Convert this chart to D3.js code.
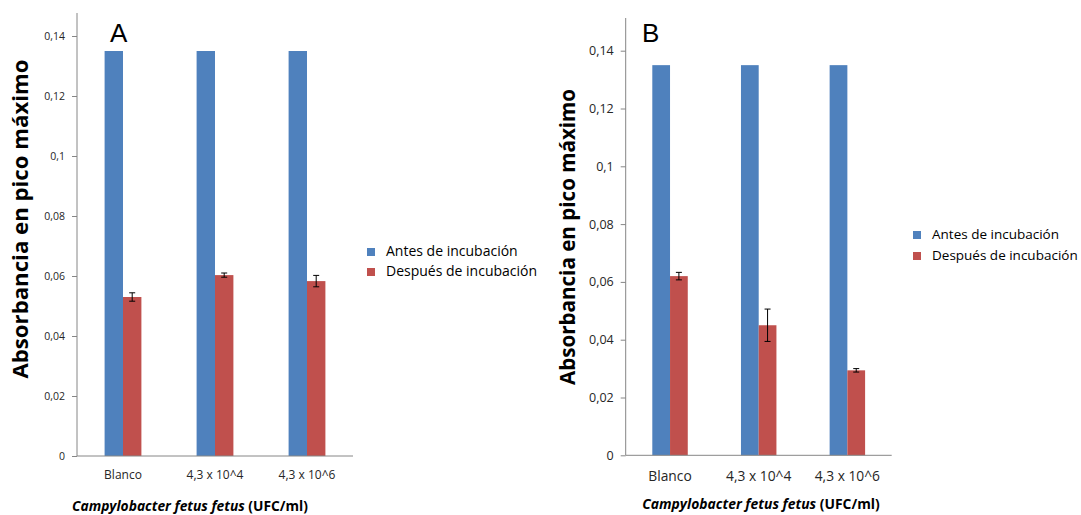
<!DOCTYPE html>
<meta charset="utf-8">
<style type="text/css">
    body { margin: 0; background: #fff; }
    svg { display: block; font-family: "Open Sans", "Noto Sans", sans-serif; }
</style>
<svg width="1081" height="515"></svg>
<script type="text/javascript" src="https://cdn.jsdelivr.net/npm/d3@7"></script>

<script type="text/javascript">

    // datos
    const categories = ["Blanco", "4,3 x 10^4", "4,3 x 10^6"];
    const seriesNames = ["Antes de incubación", "Después de incubación"];
    const yTicks = [0, 0.02, 0.04, 0.06, 0.08, 0.1, 0.12, 0.14];

    const antesA = [0.135, 0.135, 0.135];
    const despuesA = [0.053, 0.0603, 0.0583];
    const errA = [0.0014, 0.0007, 0.0019];

    const antesB = [0.135, 0.135, 0.135];
    const despuesB = [0.062, 0.045, 0.0294];
    const errB = [0.0013, 0.0056, 0.0006];

    const colors = ["#4F81BD", "#C0504D"];

    var svg = d3.select("svg");

    function fmt(d) {
        return d === 0 ? "0" : String(d).replace(".", ",");
    }

    function drawPanel(p) {
        let g = svg.append("g");

        let x = d3.scaleBand().domain(categories).range([p.left, p.right]);
        let bw = x.bandwidth();
        let xs = d3.scaleBand().domain(seriesNames).range([0.3 * bw, 0.7 * bw]);
        let y = d3.scaleLinear().domain([0, 0.14]).range([p.bottom, p.y14]);

        // barras
        let rows = categories.map((c, i) => ({ cat: c, vals: [p.antes[i], p.despues[i]], err: [null, p.err[i]] }));
        let groups = g.selectAll("g.cat").data(rows).enter().append("g")
            .attr("transform", d => "translate(" + x(d.cat) + ",0)");

        groups.selectAll("rect")
            .data(d => d.vals.map((v, k) => ({ v: v, k: k })))
            .enter().append("rect")
            .attr("x", d => xs(seriesNames[d.k]))
            .attr("width", xs.bandwidth())
            .attr("y", d => y(d.v))
            .attr("height", d => y(0) - y(d.v))
            .attr("fill", d => colors[d.k]);

        // barras de error (solo despues)
        groups.each(function(d) {
            let e = d.err[1];
            let cx = xs(seriesNames[1]) + xs.bandwidth() / 2;
            let v = d.vals[1];
            let eg = d3.select(this).append("g").attr("stroke", "#000").attr("stroke-width", 1);
            eg.append("line").attr("x1", cx).attr("x2", cx).attr("y1", y(v + e)).attr("y2", y(v - e));
            eg.append("line").attr("x1", cx - 3).attr("x2", cx + 3).attr("y1", y(v + e)).attr("y2", y(v + e));
            eg.append("line").attr("x1", cx - 3).attr("x2", cx + 3).attr("y1", y(v - e)).attr("y2", y(v - e));
        });

        // eje y
        let yAxis = g.append("g")
            .attr("transform", "translate(" + p.left + ",0)")
            .call(d3.axisLeft(y).tickValues(yTicks).tickFormat(fmt).tickSize(5).tickSizeOuter(0).tickPadding(7));
        yAxis.select(".domain").remove();
        yAxis.selectAll("line").attr("stroke", "#868686");
        yAxis.selectAll("text").attr("fill", "#262626").style("font-size", p.tickFont + "px")
            .style("font-family", "'Open Sans', sans-serif");
        g.append("line")
            .attr("x1", p.left).attr("x2", p.left)
            .attr("y1", p.axisTop).attr("y2", y(0))
            .attr("stroke", "#868686");

        // eje x
        g.append("line")
            .attr("x1", p.left).attr("x2", p.right)
            .attr("y1", y(0)).attr("y2", y(0))
            .attr("stroke", "#868686");
        g.selectAll("text.cat").data(categories).enter().append("text")
            .attr("class", "cat")
            .attr("x", d => x(d) + bw / 2)
            .attr("y", p.catY)
            .attr("text-anchor", "middle")
            .attr("fill", "#262626")
            .style("font-size", p.catFont + "px")
            .text(d => d);

        // titulo x
        let xt = g.append("text")
            .attr("x", p.xTitleX).attr("y", p.xTitleY)
            .attr("text-anchor", "middle")
            .style("font-size", p.xTitleFont + "px")
            .style("font-weight", "bold");
        xt.append("tspan").style("font-style", "italic").text("Campylobacter fetus fetus");
        xt.append("tspan").text(" (UFC/ml)");

        // titulo y
        g.append("text")
            .attr("transform", "translate(" + p.yTitleX + "," + p.yTitleY + ") rotate(-90)")
            .attr("text-anchor", "middle")
            .style("font-size", p.yTitleFont + "px")
            .style("font-weight", "bold")
            .text("Absorbancia en pico máximo");

        // letra del panel
        g.append("text")
            .attr("x", p.letterX).attr("y", p.letterY)
            .style("font-family", "'Liberation Sans', Arial, sans-serif")
            .style("font-size", "26px")
            .text(p.letter);

        // leyenda
        let lg = g.append("g").attr("transform", "translate(" + p.legX + "," + p.legY + ")");
        let items = lg.selectAll("g").data(seriesNames).enter().append("g")
            .attr("transform", (d, i) => "translate(0," + i * p.legStep + ")");
        items.append("rect").attr("x", 0).attr("y", -8).attr("width", 8).attr("height", 8)
            .attr("fill", (d, i) => colors[i]);
        items.append("text").attr("x", p.legTextDx).attr("y", 0)
            .attr("fill", "#000")
            .style("font-size", p.legFont + "px")
            .text(d => d);
    }

    drawPanel({
        letter: "A", letterX: 110, letterY: 42,
        antes: antesA, despues: despuesA, err: errA,
        left: 77, right: 353, bottom: 456, y14: 36, axisTop: 13,
        tickFont: 10.5, catFont: 12, catY: 479,
        xTitleX: 190, xTitleY: 511, xTitleFont: 13.8,
        yTitleX: 28, yTitleY: 219, yTitleFont: 22.2,
        legX: 367, legY: 256, legStep: 20, legTextDx: 19, legFont: 14
    });

    drawPanel({
        letter: "B", letterX: 642, letterY: 42,
        antes: antesB, despues: despuesB, err: errB,
        left: 625.7, right: 891.7, bottom: 455.3, y14: 50.7, axisTop: 18,
        tickFont: 12.5, catFont: 13.8, catY: 481,
        xTitleX: 761, xTitleY: 509, xTitleFont: 13.9,
        yTitleX: 575, yTitleY: 237, yTitleFont: 20.6,
        legX: 913, legY: 239, legStep: 21, legTextDx: 19, legFont: 13.5
    });

</script>
